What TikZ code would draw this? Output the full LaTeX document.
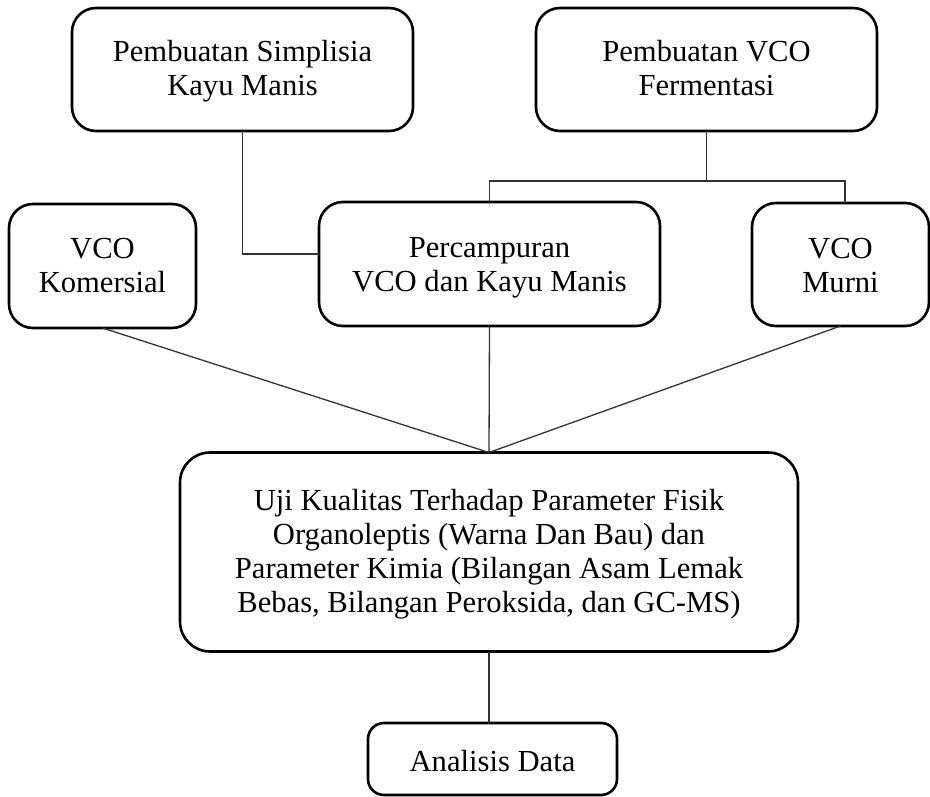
\documentclass[tikz,border=0pt]{standalone}
\usepackage{fontspec}
\setmainfont{Liberation Serif}
\newcommand\boxtext[2]{\raisebox{-#1}[\height][\depth]{\begin{tabular}{@{}c@{}}#2\end{tabular}}}
\begin{document}
\begin{tikzpicture}[x=1pt,y=-1pt,
  box/.style={draw=black, line width=2.6pt, rounded corners=24pt, fill=white,
    align=center, inner sep=0pt, outer sep=0pt,
    font=\fontsize{30.6}{34}\selectfont},
  link/.style={draw=black!80, line width=1.3pt}]
\useasboundingbox (0,0) rectangle (930,797);
\node[box, minimum width=341pt, minimum height=123pt] (A) at (242.5,69.5) {\boxtext{2pt}{Pembuatan Simplisia\\Kayu Manis}};
\node[box, minimum width=341pt, minimum height=123pt] (B) at (706.5,69.5) {\boxtext{2pt}{Pembuatan VCO\\Fermentasi}};
\node[box, minimum width=187pt, minimum height=124pt] (C) at (102.5,266) {\boxtext{3.2pt}{VCO\\Komersial}};
\node[box, minimum width=341pt, minimum height=124pt] (D) at (489.5,264) {\boxtext{4pt}{Percampuran\\VCO dan Kayu Manis}};
\node[box, minimum width=177pt, minimum height=123pt] (E) at (840.5,264.5) {\boxtext{4pt}{VCO\\Murni}};
\node[box, rounded corners=30pt, minimum width=618pt, minimum height=199pt] (F) at (489,552) {\boxtext{2.2pt}{Uji Kualitas Terhadap Parameter Fisik\\Organoleptis (Warna Dan Bau) dan\\Parameter Kimia (Bilangan Asam Lemak\\Bebas, Bilangan Peroksida, dan GC-MS)}};
\node[box, rounded corners=16pt, minimum width=249pt, minimum height=72pt] (G) at (492.5,759) {\boxtext{6pt}{Analisis Data}};
\coordinate (bj) at (706.5,181);
\draw[link] (A.south) |- ([yshift=10pt]D.west);
\draw[link] (B.south) -- (bj);
\draw[link] (D.north) |- (bj) -| ([xshift=4.5pt]E.north);
\draw[link] (C.south) -- (F.north);
\draw[link] (D.south) -- (F.north);
\draw[link] (E.south) -- (F.north);
\draw[link] (F.south) -- (F.south |- G.north);
\end{tikzpicture}
\end{document}
